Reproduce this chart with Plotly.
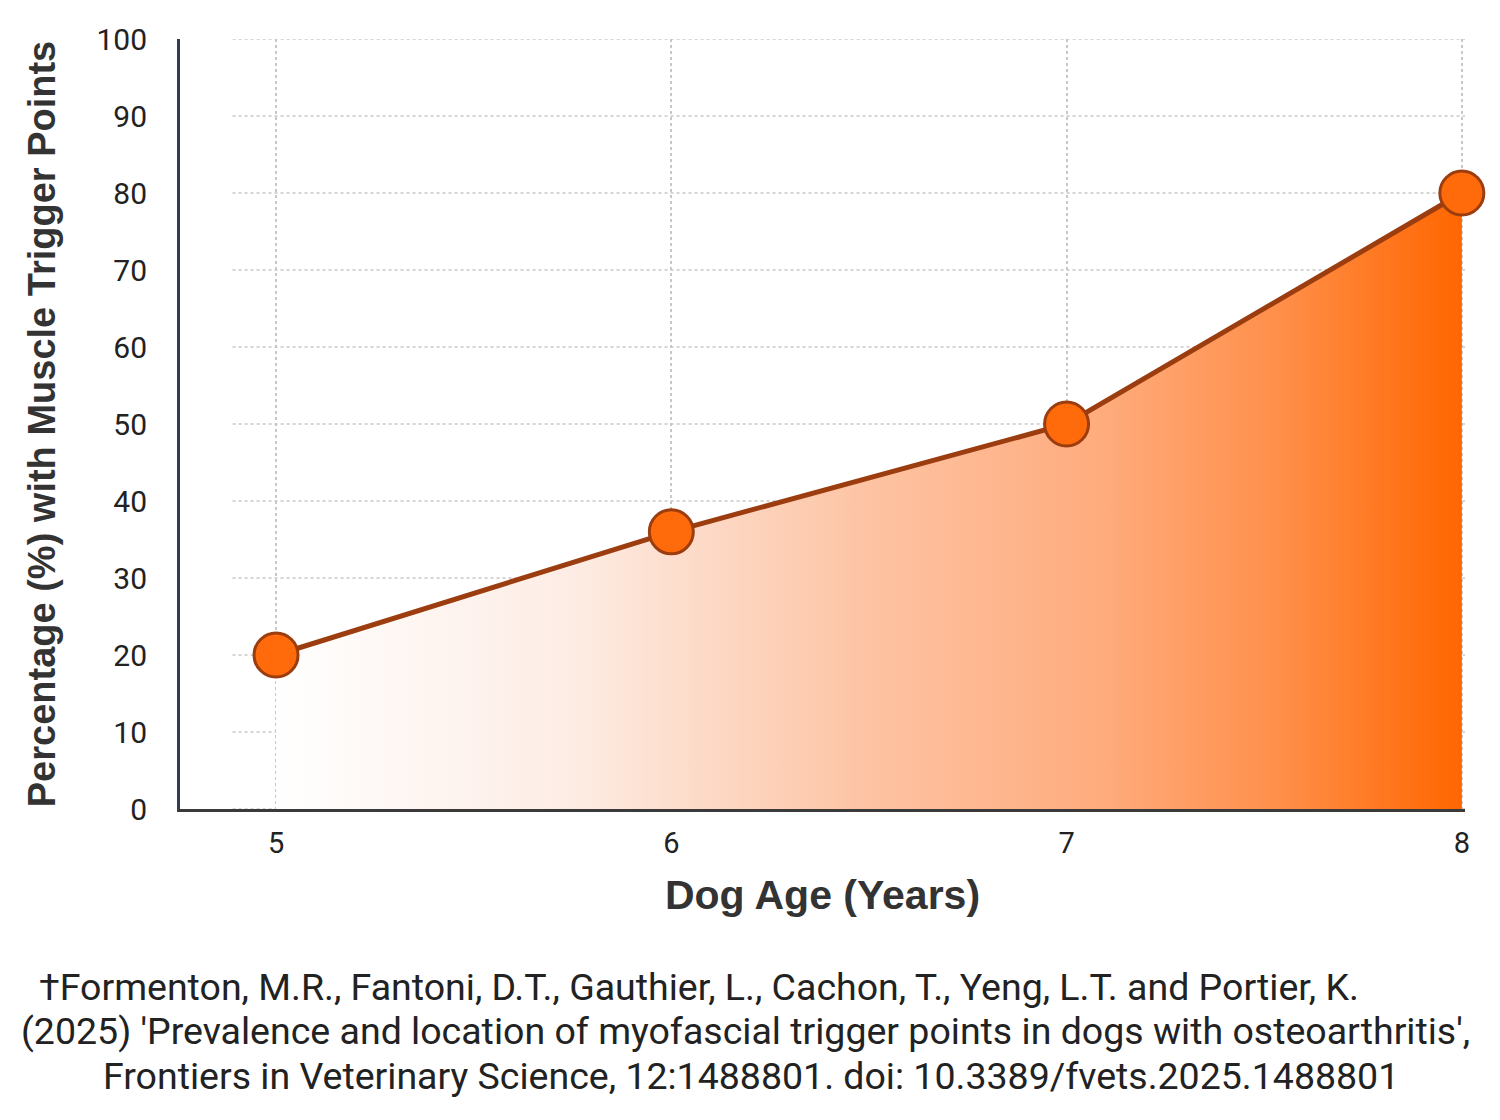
import plotly.graph_objects as go

ages = [5, 6, 7, 8]
percent = [20, 36, 50, 80]
y_ticks = [0, 10, 20, 30, 40, 50, 60, 70, 80, 90, 100]
x_title = "Dog Age (Years)"
y_title = "Percentage (%) with Muscle Trigger Points"
citation = [
    "\u2020Formenton, M.R., Fantoni, D.T., Gauthier, L., Cachon, T., Yeng, L.T. and Portier, K.",
    "(2025) 'Prevalence and location of myofascial trigger points in dogs with osteoarthritis',",
    "Frontiers in Veterinary Science, 12:1488801. doi: 10.3389/fvets.2025.1488801",
]

XR = [4.757, 8.008]

fig = go.Figure()
fig.add_trace(go.Scatter(
    x=ages, y=percent, mode="lines+markers",
    fill="tozeroy",
    fillgradient=dict(type="horizontal", colorscale=[
        [0.0, "rgba(255,255,255,1)"],
        [0.25, "#fdece4"],
        [0.5, "#fdc3a3"],
        [0.7, "#ffab7c"],
        [0.85, "#ff8e48"],
        [1.0, "#ff6600"],
    ]),
    line=dict(color="#9c3d10", width=5),
    marker=dict(size=44, color="#ff6a0a", line=dict(color="#9c3d10", width=3)),
    cliponaxis=False,
    hoverinfo="x+y", showlegend=False,
))

shapes = []
for v in y_ticks:
    shapes.append(dict(type="line", xref="x", yref="y", x0=4.89, x1=XR[1], y0=v, y1=v,
                       line=dict(color="#c8c8c8", width=1.5, dash="dot"), layer="below"))

fig.update_layout(
    width=1500, height=1120,
    margin=dict(l=180, r=35, t=39, b=311),
    paper_bgcolor="white", plot_bgcolor="white",
    shapes=shapes,
    xaxis=dict(
        range=XR, tickvals=ages, ticktext=[str(a) for a in ages],
        showgrid=True, gridcolor="#c8c8c8", griddash="dot", gridwidth=1.5,
        showline=True, linecolor="#3a3a3a", linewidth=3,
        zeroline=False,
        ticks="outside", ticklen=0, ticklabelstandoff=6,
        tickfont=dict(family="Roboto", size=29, color="#222222"),
        title=dict(text="<b>" + x_title + "</b>", standoff=22,
                   font=dict(family="Liberation Sans", size=41, color="#333333")),
    ),
    yaxis=dict(
        range=[0, 100], tickvals=y_ticks,
        showgrid=False, zeroline=False,
        showline=True, linecolor="#2c3e50", linewidth=3,
        ticks="outside", ticklen=0, ticklabelstandoff=24,
        tickfont=dict(family="Roboto", size=30, color="#222222"),
        title=dict(text="<b>" + y_title + "</b>", standoff=30,
                   font=dict(family="Liberation Sans", size=38, color="#333333")),
    ),
)

line_x = [699, 745, 751]
line_y = [987, 1031, 1076]
for txt, cx, cy in zip(citation, line_x, line_y):
    fig.add_annotation(
        text=txt, xref="paper", yref="paper",
        x=(cx - 180) / 1285, y=(809 - cy) / 770,
        xanchor="center", yanchor="middle", showarrow=False,
        font=dict(family="Roboto", size=37.5, color="#222222"),
    )

fig.write_html("out.html")
